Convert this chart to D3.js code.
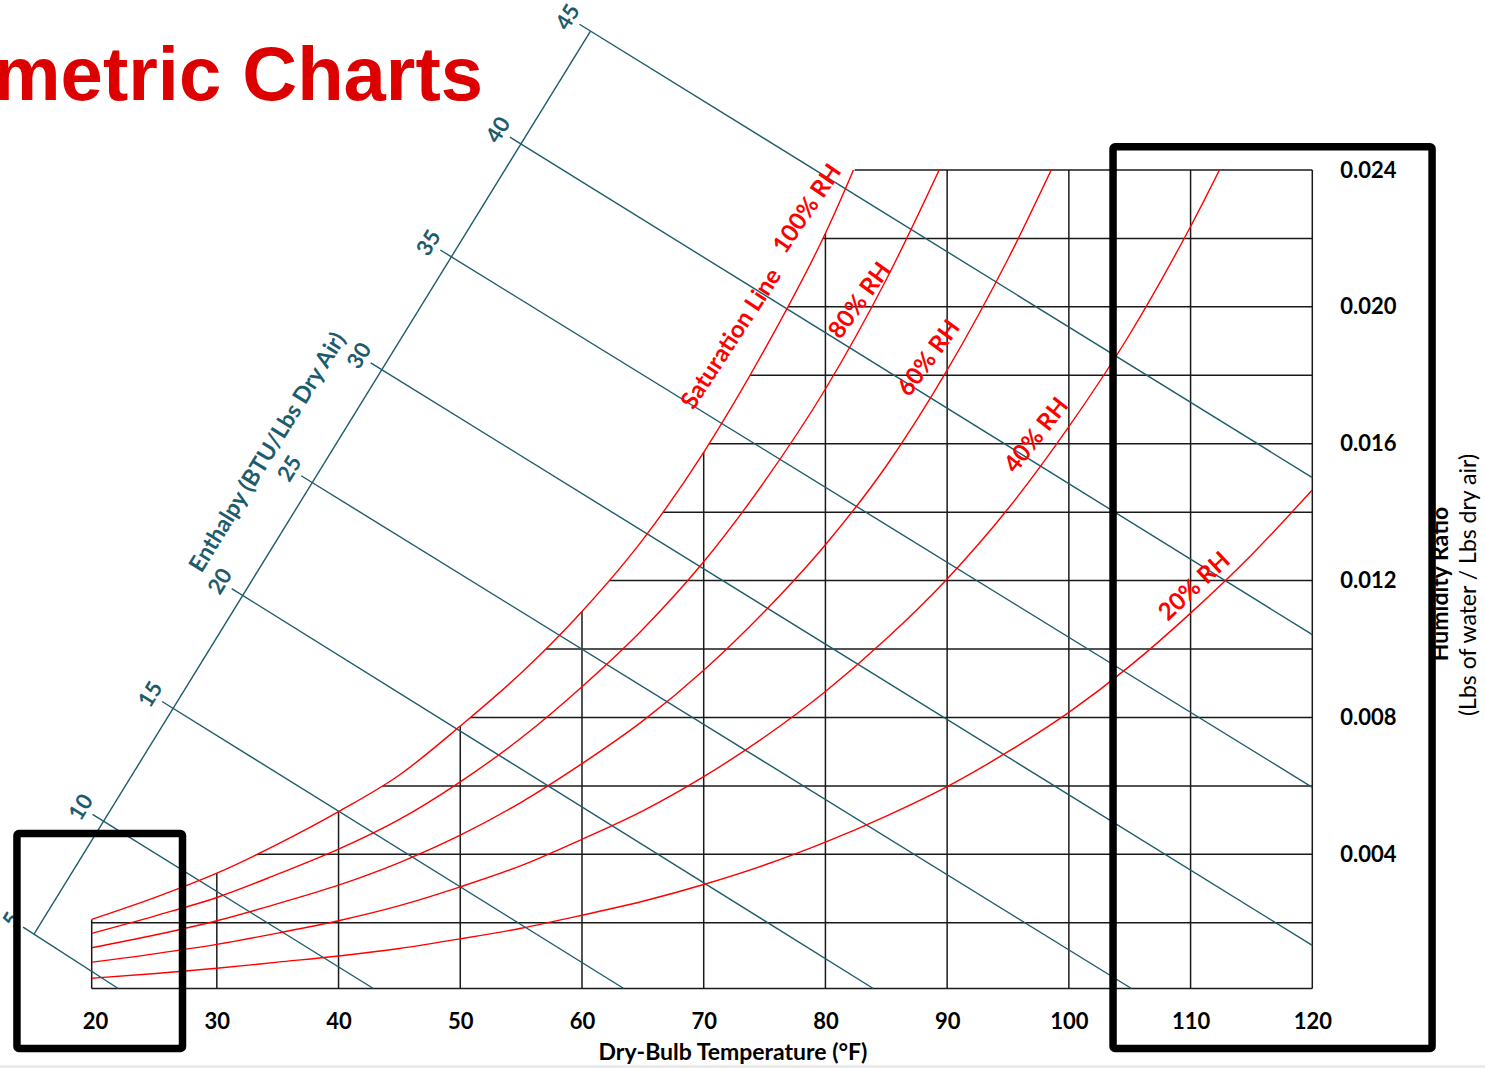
<!DOCTYPE html>
<html>
<head>
<meta charset="utf-8">
<script src="https://cdn.jsdelivr.net/npm/d3@7"></script>
<style>
  html, body { margin: 0; padding: 0; background: #fff; }
  svg { display: block; }
</style>
</head>
<body>
<div id="chart"></div>
<script>
const fullwidth = 1485;
const fullheight = 1068;

// plot window (dry-bulb °F, humidity ratio lb/lb)
const tMin = 19.72, tMax = 120;
const wMin = 0.00008, wMax = 0.024;
const satTopTemp = 82.4;   // where the saturation line leaves the top of the grid

const tempTicks = [20, 30, 40, 50, 60, 70, 80, 90, 100, 110, 120];
const tempGrid = [30, 40, 50, 60, 70, 80, 90, 100, 110];
const wTicks = [0.004, 0.008, 0.012, 0.016, 0.020, 0.024];
const wGrid = [0.002, 0.004, 0.006, 0.008, 0.010, 0.012, 0.014, 0.016, 0.018, 0.020, 0.022];

// temperatures the RH curves were read at
const curveTemps = [19.72, 25, 30, 35, 40, 45, 50, 55, 60, 65, 70, 75, 80, 85, 90, 95, 100, 105, 110, 115, 120];
const rh100 = [0.00210, 0.00275, 0.00345, 0.00430, 0.00525, 0.00632, 0.00775, 0.00930, 0.01110, 0.01320, 0.01575, 0.01875, 0.02215, 0.02630];
const rh80 = [0.00169, 0.00221, 0.00274, 0.00342, 0.00415, 0.00502, 0.00612, 0.00740, 0.00890, 0.01058, 0.01255, 0.01490, 0.01760, 0.02080, 0.02450];
const rh60 = [0.00127, 0.00165, 0.00206, 0.00256, 0.00310, 0.00376, 0.00456, 0.00552, 0.00665, 0.00790, 0.00938, 0.01110, 0.01305, 0.01535, 0.01815, 0.02140, 0.02510];
const rh40 = [0.00085, 0.00110, 0.00137, 0.00170, 0.00206, 0.00250, 0.00305, 0.00367, 0.00444, 0.00527, 0.00627, 0.00743, 0.00876, 0.01030, 0.01205, 0.01410, 0.01650, 0.01920, 0.02235, 0.02590];
const rh20 = [0.00038, 0.00052, 0.00067, 0.00085, 0.00103, 0.00125, 0.00153, 0.00184, 0.00222, 0.00263, 0.00312, 0.00369, 0.00436, 0.00512, 0.00598, 0.00700, 0.00815, 0.00950, 0.01105, 0.01275, 0.01465];

const rhLabels = ["100% RH", "Saturation Line", "80% RH", "60% RH", "40% RH", "20% RH"];
const rhLabelTemp = [78.46, 72.22, 82.77, 88.45, 97.29, 110.27];
const rhLabelW = [0.02288, 0.01908, 0.02020, 0.01852, 0.01626, 0.01185];
const rhLabelAngle = [-55.8, -56.8, -54, -53.8, -51.8, -43.2];

// enthalpy (BTU/lb dry air): scale line ends and where each line meets the grid edge
const enthalpyValues = [5, 10, 15, 20, 25, 30, 35, 40, 45];
const enthalpyScaleStart = [14.98, 0.00167];   // h = 5
const enthalpyScaleEnd = [60.70, 0.02806];     // h = 45
const enthalpyEndTemp = [21.9, 42.86, 63.43, 83.93, 105.14, 120, 120, 120, 120];
const enthalpyEndW = [0.00008, 0.00008, 0.00008, 0.00008, 0.00008, 0.00134, 0.00596, 0.01042, 0.01501];

// highlight boxes (temperature range, humidity ratio range)
const boxTemps = [[13.58, 27.18], [103.63, 129.84]];
const boxW = [[-0.00167, 0.00461], [-0.00167, 0.02468]];

const red = "#ff0000", teal = "#1d5c6c";
const font = "Lato, 'Open Sans', sans-serif";

const x = d3.scaleLinear().domain([tMin, tMax]).range([91.7, 1312.3]);
const y = d3.scaleLinear().domain([wMin, wMax]).range([988.5, 170]);

const svg = d3.select("#chart").append("svg")
  .attr("width", fullwidth)
  .attr("height", fullheight);

const defs = svg.append("defs");

// region under the saturation line, for the grid
const satArea = d3.area()
  .x((d, i) => x(curveTemps[i]))
  .y0(y(wMin))
  .y1(d => y(d))
  .curve(d3.curveMonotoneX);
const gridClip = defs.append("clipPath").attr("id", "gridClip");
gridClip.append("path").attr("d", satArea(rh100));
gridClip.append("rect")
  .attr("x", x(satTopTemp)).attr("y", y(wMax) - 2)
  .attr("width", x(tMax) - x(satTopTemp) + 2).attr("height", y(wMin) - y(wMax) + 4);

defs.append("clipPath").attr("id", "plotClip")
  .append("rect")
  .attr("x", x(tMin)).attr("y", y(wMax))
  .attr("width", x(tMax) - x(tMin)).attr("height", y(wMin) - y(wMax));

// title (slide heading, cut at the left edge)
svg.append("text")
  .attr("x", 483).attr("y", 100)
  .attr("text-anchor", "end")
  .style("font-family", "'Liberation Sans', Arial, sans-serif")
  .style("font-weight", "bold")
  .style("font-size", "76px")
  .style("fill", "#dd0000")
  .text("Psychrometric Charts");

// grid
const grid = svg.append("g").attr("clip-path", "url(#gridClip)")
  .style("stroke", "#1a1a1a").style("stroke-width", 1.5);
grid.selectAll("line.v").data(tempGrid).enter().append("line")
  .attr("x1", d => x(d)).attr("x2", d => x(d))
  .attr("y1", y(wMin)).attr("y2", y(wMax));
grid.selectAll("line.h").data(wGrid).enter().append("line")
  .attr("x1", x(tMin)).attr("x2", x(tMax))
  .attr("y1", d => y(d)).attr("y2", d => y(d));

// border of the grid
const border = svg.append("g").style("stroke", "#1a1a1a").style("stroke-width", 1.5);
border.append("line").attr("x1", x(tMin)).attr("x2", x(tMax)).attr("y1", y(wMin)).attr("y2", y(wMin));
border.append("line").attr("x1", x(tMax)).attr("x2", x(tMax)).attr("y1", y(wMin)).attr("y2", y(wMax));
border.append("line").attr("x1", x(satTopTemp)).attr("x2", x(tMax)).attr("y1", y(wMax)).attr("y2", y(wMax));
border.append("line").attr("x1", x(tMin)).attr("x2", x(tMin)).attr("y1", y(wMin)).attr("y2", y(rh100[0]));

// enthalpy lines
const pStart = [x(enthalpyScaleStart[0]), y(enthalpyScaleStart[1])];
const pEnd = [x(enthalpyScaleEnd[0]), y(enthalpyScaleEnd[1])];
const hPos = d3.scaleLinear().domain([5, 45]).range([0, 1]);
const scaleAngle = Math.atan2(pEnd[1] - pStart[1], pEnd[0] - pStart[0]) * 180 / Math.PI;

const hLines = enthalpyValues.map((h, i) => {
  const p = d3.interpolate(pStart, pEnd)(hPos(h));
  const e = [x(enthalpyEndTemp[i]), y(enthalpyEndW[i])];
  const len = Math.hypot(e[0] - p[0], e[1] - p[1]);
  const u = [(e[0] - p[0]) / len, (e[1] - p[1]) / len];
  return { h, p, e, u };
});

const hG = svg.append("g");
hG.append("line")
  .attr("x1", pStart[0]).attr("y1", pStart[1])
  .attr("x2", pEnd[0]).attr("y2", pEnd[1])
  .style("stroke", teal).style("stroke-width", 1.4);
hG.selectAll("line.h").data(hLines).enter().append("line")
  .attr("x1", d => d.p[0] - 13 * d.u[0]).attr("y1", d => d.p[1] - 13 * d.u[1])
  .attr("x2", d => d.e[0]).attr("y2", d => d.e[1])
  .style("stroke", teal).style("stroke-width", 1.4);
hG.selectAll("text").data(hLines).enter().append("text")
  .attr("transform", d => `translate(${d.p[0] - 27 * d.u[0]},${d.p[1] - 27 * d.u[1]}) rotate(${scaleAngle})`)
  .attr("text-anchor", "middle")
  .attr("dy", "0.35em")
  .style("font-family", font).style("font-weight", "bold").style("font-size", "22px")
  .style("fill", teal)
  .text(d => d.h);

svg.append("text")
  .attr("transform", `translate(${x(34.12)},${y(0.01576)}) rotate(${scaleAngle})`)
  .attr("text-anchor", "middle")
  .attr("dy", "0.35em")
  .style("font-family", font).style("font-weight", "bold").style("font-size", "23px")
  .style("fill", teal)
  .text("Enthalpy (BTU/Lbs Dry Air)");

// relative humidity curves
const rhLine = d3.line()
  .x((d, i) => x(curveTemps[i]))
  .y(d => y(d))
  .curve(d3.curveMonotoneX);
svg.append("g").attr("clip-path", "url(#plotClip)")
  .selectAll("path").data([rh100, rh80, rh60, rh40, rh20]).enter().append("path")
  .attr("d", rhLine)
  .style("fill", "none").style("stroke", red).style("stroke-width", 1.4);

svg.append("g").selectAll("text").data(rhLabels).enter().append("text")
  .attr("transform", (d, i) => `translate(${x(rhLabelTemp[i])},${y(rhLabelW[i])}) rotate(${rhLabelAngle[i]})`)
  .attr("text-anchor", "middle")
  .attr("dy", "0.35em")
  .style("font-family", font).style("font-weight", "bold").style("font-size", "24px")
  .style("fill", red)
  .text(d => d);

// axes (labels only)
const xAxis = svg.append("g")
  .attr("transform", `translate(0,${y(wMin)})`)
  .call(d3.axisBottom(x).tickValues(tempTicks).tickSize(0).tickPadding(25).tickFormat(d3.format("d")));
xAxis.select(".domain").remove();
xAxis.selectAll("text")
  .style("font-family", font).style("font-weight", "bold").style("font-size", "22px").style("fill", "#000");

const yAxis = svg.append("g")
  .attr("transform", `translate(${x(tMax)},0)`)
  .call(d3.axisRight(y).tickValues(wTicks).tickSize(0).tickPadding(28).tickFormat(d3.format(".3f")));
yAxis.select(".domain").remove();
yAxis.selectAll("text")
  .style("font-family", font).style("font-weight", "bold").style("font-size", "22px").style("fill", "#000");

svg.append("text")
  .attr("x", 733).attr("y", 1060)
  .attr("text-anchor", "middle")
  .style("font-family", font).style("font-weight", "bold").style("font-size", "23px")
  .text("Dry-Bulb Temperature (°F)");

svg.append("text")
  .attr("transform", "translate(1448,584) rotate(-90)")
  .attr("text-anchor", "middle")
  .style("font-family", font).style("font-weight", "bold").style("font-size", "23px")
  .text("Humidity Ratio");

svg.append("text")
  .attr("transform", "translate(1476,585) rotate(-90)")
  .attr("text-anchor", "middle")
  .style("font-family", font).style("font-size", "23px")
  .text("(Lbs of water / Lbs dry air)");

// highlight boxes
svg.append("g").selectAll("rect").data(boxTemps).enter().append("rect")
  .attr("x", d => x(d[0]))
  .attr("y", (d, i) => y(boxW[i][1]))
  .attr("width", d => x(d[1]) - x(d[0]))
  .attr("height", (d, i) => y(boxW[i][0]) - y(boxW[i][1]))
  .attr("rx", 2)
  .style("fill", "none").style("stroke", "#000").style("stroke-width", 7.5)
  .style("stroke-linejoin", "round");

// slide edge
svg.append("rect").attr("x", 0).attr("y", 1065).attr("width", fullwidth).attr("height", 3).style("fill", "#ececec");
</script>
</body>
</html>
